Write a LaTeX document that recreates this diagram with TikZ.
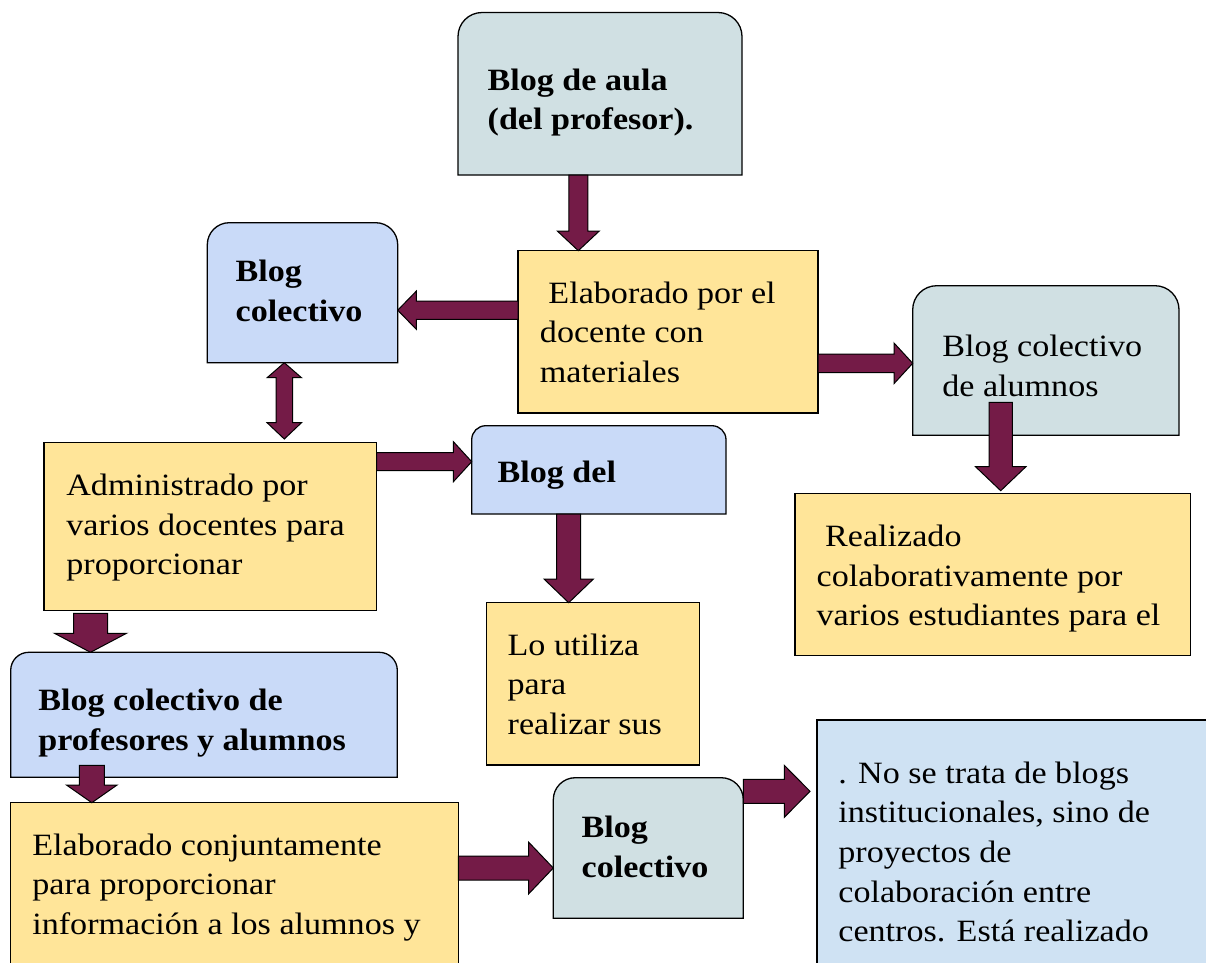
\documentclass[tikz,border=0pt]{standalone}
\usepackage{fontspec}
\setmainfont{Liberation Serif}[FakeStretch=1.1]
\usetikzlibrary{calc}

\definecolor{amarillo}{HTML}{FFE599}
\definecolor{azul}{HTML}{C9DAF8}
\definecolor{cian}{HTML}{D0E0E3}
\definecolor{celeste}{HTML}{CFE2F3}
\definecolor{granate}{HTML}{741B47}

% block arrows: from, to, y (or x), half shaft, half head, head length (signed)
\newcommand{\hfat}[6]{\filldraw[fat] let \p1=(#1), \p2=(#2), \p3=(0,#3) in
  (\x1,{\y3+#4}) -- ({\x2-(#6)},{\y3+#4}) -- ({\x2-(#6)},{\y3+#5}) -- (\x2,\y3) --
  ({\x2-(#6)},{\y3-#5}) -- ({\x2-(#6)},{\y3-#4}) -- (\x1,{\y3-#4}) -- cycle;}
\newcommand{\vfat}[6]{\filldraw[fat] let \p1=(#1), \p2=(#2), \p3=(#3,0) in
  ({\x3-#4},\y1) -- ({\x3-#4},{\y2+#6}) -- ({\x3-#5},{\y2+#6}) -- (\x3,\y2) --
  ({\x3+#5},{\y2+#6}) -- ({\x3+#4},{\y2+#6}) -- ({\x3+#4},\y1) -- cycle;}

\begin{document}
\begin{tikzpicture}[x=1pt, y=-1pt, line width=1.3pt,
  caja/.style={anchor=north west, inner sep=0pt, outer sep=0pt},
  plana/.style={caja, draw, fill=amarillo},
  txt/.style={anchor=base west, align=left, inner sep=0pt, font=\fontsize{31}{39.6}\selectfont},
  negrita/.style={txt, font=\fontsize{31}{39.6}\selectfont\bfseries},
  fat/.style={draw=black, fill=granate, line width=1pt, line join=miter}]
\useasboundingbox (0,0) rectangle (1206,962);
\clip (0,0) rectangle (1206,962);

% boxes
\node[caja, minimum width=284pt, minimum height=162.5pt] (aula) at (458,12.5) {};
\node[plana, minimum width=300pt, minimum height=162.3pt] (elaborado) at (518,250.7) {};
\node[caja, minimum width=190.4pt, minimum height=140pt] (colectivo) at (207.3,222.7) {};
\node[caja, minimum width=266.3pt, minimum height=149.6pt] (alumnos) at (912.7,285.7) {};
\node[plana, minimum width=395.7pt, minimum height=162.4pt] (realizado) at (795,493.3) {};
\node[plana, minimum width=332.7pt, minimum height=168pt] (administrado) at (44,442.7) {};
\node[caja, minimum width=254.3pt, minimum height=88.3pt] (blogdel) at (471.7,425.7) {};
\node[plana, minimum width=212.6pt, minimum height=162.3pt] (utiliza) at (486.7,602.7) {};
\node[caja, minimum width=386.6pt, minimum height=125pt] (profesores) at (10.7,652.3) {};
\node[plana, minimum width=447.6pt, minimum height=200pt] (conjunta) at (10.7,802.7) {};
\node[caja, minimum width=190pt, minimum height=140.6pt] (colectivob) at (553.3,777.7) {};
\node[caja, draw, fill=celeste, minimum width=420pt, minimum height=300pt] (centros) at (817,720) {};

\foreach \n/\c/\r in {aula/cian/24, colectivo/azul/22, alumnos/cian/24,
                      blogdel/azul/14, profesores/azul/18, colectivob/cian/22}
  \draw[fill=\c] (\n.south west) [rounded corners=\r pt] |- (\n.north) -| (\n.east)
    [sharp corners] -- (\n.south east) -- cycle;

% texts (placed at the baseline of their last line)
\node[negrita] (aulat) at (487,129.6) {Blog de aula\\(del profesor).};
\node[txt] (elaboradot) at (539.3,382.2) {\ Elaborado por el\\docente con\\materiales};
\node[negrita] (colectivot) at (235,321.3) {Blog\\colectivo};
\node[txt] (alumnost) at (941.7,396.3) {Blog colectivo\\de alumnos};
\node[txt] (realizadot) at (816,625.9) {\ Realizado\\colaborativamente por\\varios estudiantes para el};
\node[txt] (administradot) at (65.7,574.9) {Administrado por\\varios docentes para\\proporcionar};
\node[negrita] (blogdelt) at (497,482.7) {Blog del};
\node[txt] (utilizat) at (507,734.2) {Lo utiliza\\para\\realizar sus};
\node[negrita] (profesorest) at (37.7,750.3) {Blog colectivo de\\profesores y alumnos};
\node[txt] (conjuntat) at (31.7,934.2) {Elaborado conjuntamente\\para proporcionar\\información a los alumnos y};
\node[negrita] (colectivobt) at (581,877.3) {Blog\\colectivo};
\node[txt] (centrost) at (837.7,941.7) {. No se trata de blogs\\institucionales, sino de\\proyectos de\\colaboración entre\\centros. Está realizado};

% arrows
\vfat{aula.south}{elaborado.north}{578.3}{9.5pt}{21pt}{19.7pt}
\hfat{elaborado.west}{colectivo.east}{310.2}{9.2pt}{19.2pt}{-18.7pt}
\hfat{elaborado.east}{alumnos.west}{363.3}{9.3pt}{20.3pt}{18.7pt}
\vfat{[yshift=33pt]alumnos.south}{[yshift=2.6pt]realizado.north}{1000.7}{11.7pt}{25.2pt}{24pt}
\filldraw[fat] let \p1=(colectivo.south), \p2=([yshift=3.7pt]administrado.north), \p3=(284.3,0) in
  (\x3,\y1) -- ({\x3+17.2pt},{\y1-15pt}) -- ({\x3+8.3pt},{\y1-15pt}) -- ({\x3+8.3pt},{\y2+16.3pt}) --
  ({\x3+17.2pt},{\y2+16.3pt}) -- (\x3,\y2) -- ({\x3-17.2pt},{\y2+16.3pt}) -- ({\x3-8.3pt},{\y2+16.3pt}) --
  ({\x3-8.3pt},{\y1-15pt}) -- ({\x3-17.2pt},{\y1-15pt}) -- cycle;
\hfat{administrado.east}{blogdel.west}{461.7}{9pt}{20pt}{18.3pt}
\vfat{blogdel.south}{utiliza.north}{568.7}{12pt}{24.7pt}{23.7pt}
\vfat{[yshift=-2.6pt]administrado.south}{profesores.north}{90.5}{17pt}{36pt}{19pt}
\vfat{[yshift=12pt]profesores.south}{conjunta.north}{91.8}{12.5pt}{25.3pt}{17.7pt}
\hfat{conjunta.east}{colectivob.west}{868}{12pt}{25.8pt}{24.6pt}
\hfat{colectivob.east}{[xshift=-7pt]centros.west}{791.3}{12pt}{26pt}{25.7pt}
\end{tikzpicture}
\end{document}
